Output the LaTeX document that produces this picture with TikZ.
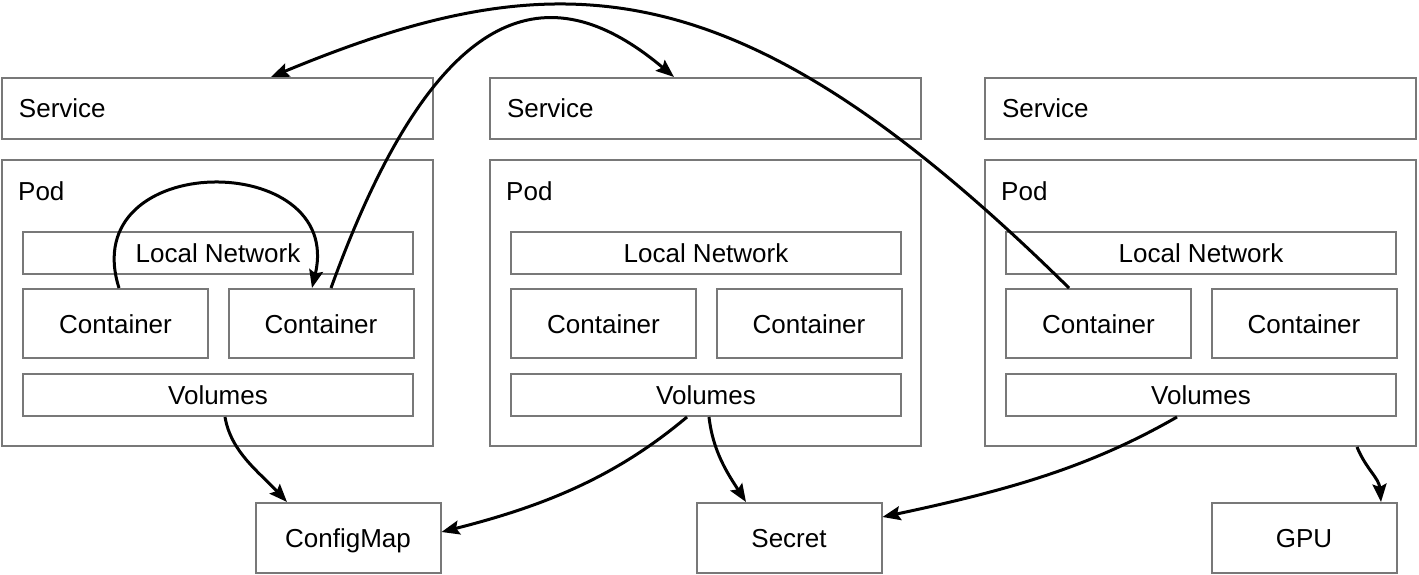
\documentclass[tikz,border=0pt]{standalone}
\usepackage{fontspec}
\setmainfont{Liberation Sans}
\usetikzlibrary{arrows.meta}
\definecolor{boxgray}{RGB}{120,120,120}
\tikzset{
  boxbase/.style={draw=boxgray, line width=2pt, inner sep=0pt, text height=19pt, text depth=0pt, font=\fontsize{26}{30}\selectfont},
  servicebox/.style={boxbase, minimum width=431pt, minimum height=61pt, text width=397pt, inner xsep=17pt, align=left},
  podbox/.style={boxbase, minimum width=431pt, minimum height=286pt},
  layerbox/.style={boxbase, minimum width=390pt, minimum height=42pt},
  ctrbox/.style={boxbase, minimum width=185pt, minimum height=69pt},
  resbox/.style={boxbase, minimum width=185pt, minimum height=70pt},
  podtag/.style={inner sep=0pt, anchor=west, text height=19pt, text depth=0pt, font=\fontsize{26}{30}\selectfont},
  flow/.style={line width=3pt, -{Stealth[length=18pt, width=14pt, inset=3pt]}}
}

\begin{document}
\begin{tikzpicture}[x=1pt, y=1pt]
    \useasboundingbox (0,0) rectangle (1419,-575);
    % ---------------------
    \node[servicebox] (svc1) at (217.5,-108.5) {Service};
    \node[podbox] (pod1) at (217.5,-303) {};
    \node[podtag] (podtag1) at ([xshift=17pt, yshift=-32pt]pod1.north west) {Pod};
    \node[layerbox] (net1) at (218,-253) {Local Network};
    \node[ctrbox] (cl1) at (115.5,-323.5) {Container};
    \node[ctrbox] (cr1) at (321,-323.5) {Container};
    \node[layerbox] (vol1) at (218,-395) {Volumes};
    % ---------------------
    \node[servicebox] (svc2) at (705.5,-108.5) {Service};
    \node[podbox] (pod2) at (705.5,-303) {};
    \node[podtag] (podtag2) at ([xshift=17pt, yshift=-32pt]pod2.north west) {Pod};
    \node[layerbox] (net2) at (706,-253) {Local Network};
    \node[ctrbox] (cl2) at (603.5,-323.5) {Container};
    \node[ctrbox] (cr2) at (809,-323.5) {Container};
    \node[layerbox] (vol2) at (706,-395) {Volumes};
    % ---------------------
    \node[servicebox] (svc3) at (1200.5,-108.5) {Service};
    \node[podbox] (pod3) at (1200.5,-303) {};
    \node[podtag] (podtag3) at ([xshift=17pt, yshift=-32pt]pod3.north west) {Pod};
    \node[layerbox] (net3) at (1201,-253) {Local Network};
    \node[ctrbox] (cl3) at (1098.5,-323.5) {Container};
    \node[ctrbox] (cr3) at (1304,-323.5) {Container};
    \node[layerbox] (vol3) at (1201,-395) {Volumes};
    % ---------------------
    \node[resbox] (cfgmap) at (348,-538) {ConfigMap};
    \node[resbox] (secret) at (789,-538) {Secret};
    \node[resbox] (gpu) at (1304,-538) {GPU};
    % ---------------------
    \draw[flow] ([xshift=3.5pt]cl1.north) .. controls +(-44,139) and +(33,139) .. ([xshift=-9pt]cr1.north);
    \draw[flow] ([xshift=10pt]cr1.north) .. controls +(116,320) and +(-107,90) .. ([xshift=-31.5pt]svc2.north);
    \draw[flow] ([xshift=-29.5pt]cl3.north) .. controls +(-330,325) and +(290,120) .. ([xshift=53.5pt]svc1.north);
    % ---------------------
    \draw[flow] ([xshift=7pt]vol1.south) .. controls +(6,-35) and +(-28,30) .. ([xshift=-61pt]cfgmap.north);
    \draw[flow] ([xshift=-19pt]vol2.south) .. controls +(-69,-58) and +(107,27) .. ([yshift=6pt]cfgmap.east);
    \draw[flow] ([xshift=3pt]vol2.south) .. controls +(4,-35) and +(-18,28) .. ([xshift=-43pt]secret.north);
    \draw[flow] ([xshift=-24pt]vol3.south) .. controls +(-87,-50) and +(127,27) .. ([yshift=21pt]secret.east);
    \draw[flow] ([xshift=156.5pt]pod3.south) .. controls +(9,-22) and +(-2,24) .. ([xshift=77pt]gpu.north);
\end{tikzpicture}
\end{document}
